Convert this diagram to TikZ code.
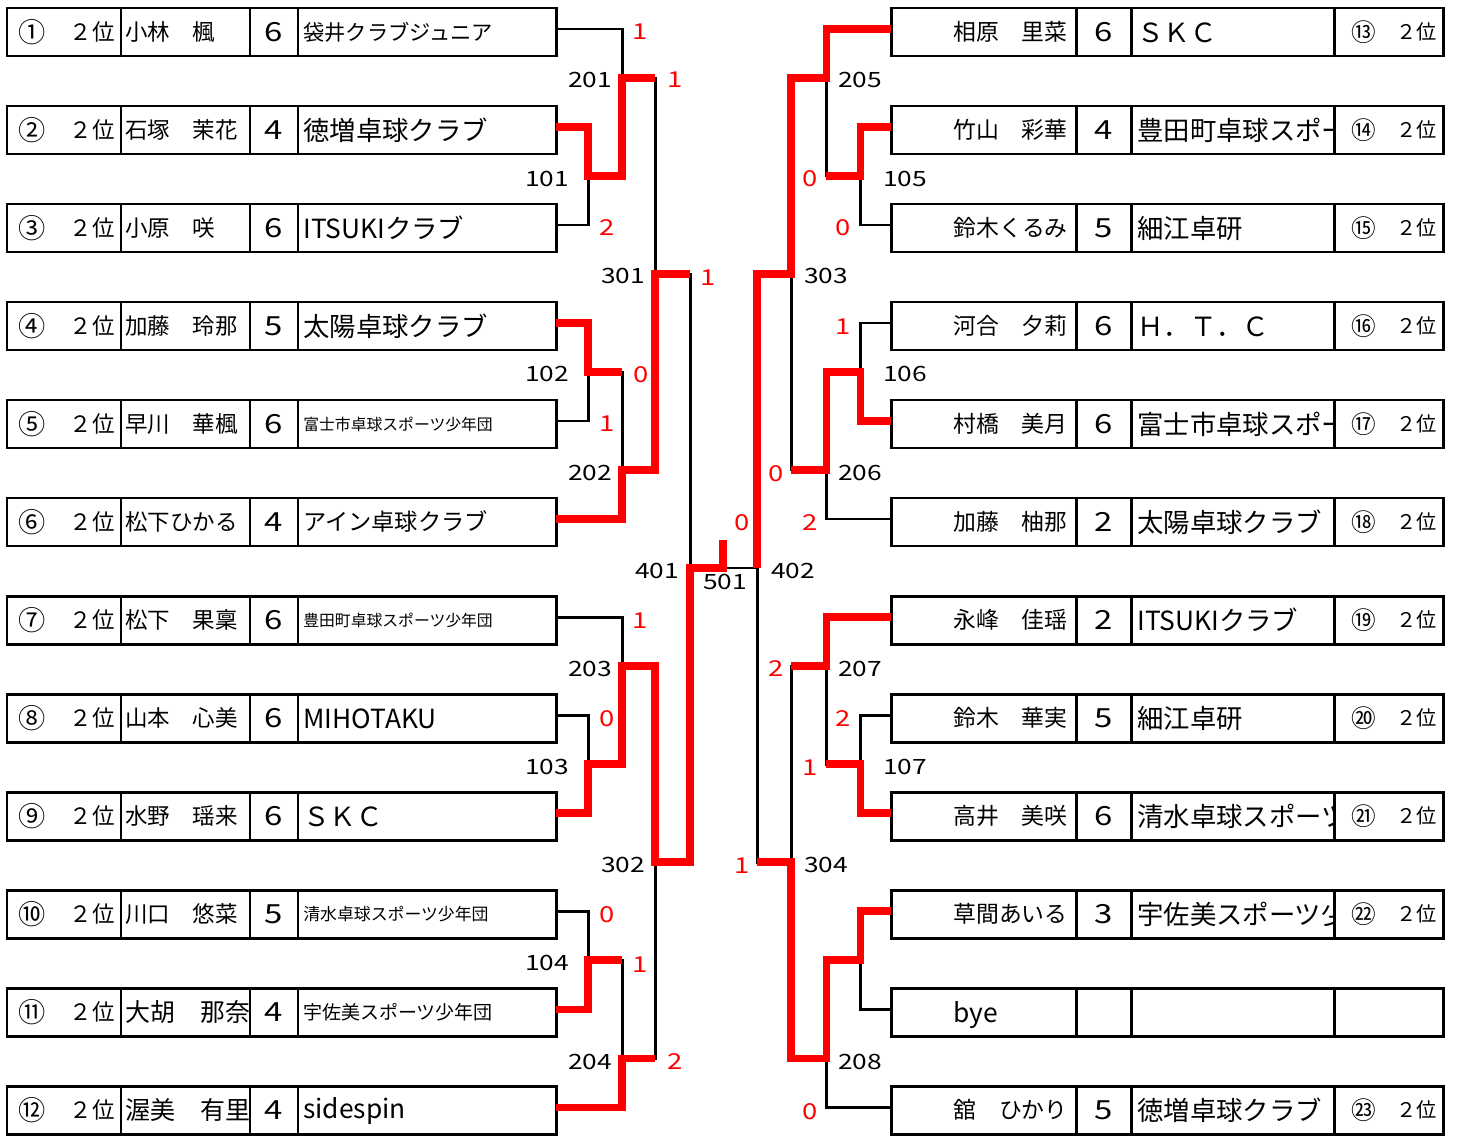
\documentclass[tikz,border=0pt]{standalone}
\usepackage{fontspec}
\setmainfont{Noto Sans CJK JP}
\usepackage{graphicx}
\usepackage{tikz}
\usetikzlibrary{positioning}
\definecolor{winred}{RGB}{255,0,0}
\newcommand\cellfont[1]{\fontsize{#1}{#1}\selectfont\rule[-0.12em]{0pt}{1em}}
\newcommand\widenum[2]{\fontsize{#1}{#1}\selectfont\scalebox{1.25}[1]{#2}}

\begin{document}
\begin{tikzpicture}[x=0.02cm,y=-0.02cm,
    cellbox/.style={draw,line width=1.7pt},
    bline/.style={line width=1.7pt},
    rline/.style={winred,line width=4pt,line join=miter},
    txt/.style={inner sep=0pt},
    mno/.style={inner sep=0pt},
    pts/.style={inner sep=0pt,text=winred}]
\useasboundingbox (0,0) rectangle (1459,1135);
\clip (0,0) rectangle (1459,1135);
\fill[white] (0,0) rectangle (1459,1135);

\foreach \i/\rk/\nm/\nsz/\nmb/\cl/\csz in {
    1/①/小林　楓/12.8/6/袋井クラブジュニア/12.1,
    2/②/石塚　茉花/12.8/4/徳増卓球クラブ/15,
    3/③/小原　咲/12.8/6/ITSUKIクラブ/15,
    4/④/加藤　玲那/12.8/5/太陽卓球クラブ/15,
    5/⑤/早川　華楓/12.8/6/富士市卓球スポーツ少年団/9,
    6/⑥/松下ひかる/12.8/4/アイン卓球クラブ/13.2,
    7/⑦/松下　果稟/12.8/6/豊田町卓球スポーツ少年団/9,
    8/⑧/山本　心美/12.8/6/MIHOTAKU/15,
    9/⑨/水野　瑶来/12.8/6/ＳＫＣ/15,
    10/⑩/川口　悠菜/12.8/5/清水卓球スポーツ少年団/9.6,
    11/⑪/大胡　那奈/14.2/4/宇佐美スポーツ少年団/10.8,
    12/⑫/渥美　有里/14.2/4/sidespin/15}{
  \pgfmathsetmacro\yc{32+98*(\i-1)}
  \draw[cellbox] (7,\yc-24) rectangle (556,\yc+24)
    (121,\yc-24) -- (121,\yc+24) (250,\yc-24) -- (250,\yc+24) (298,\yc-24) -- (298,\yc+24);
  \node[txt] (ck\i) at (32,\yc) {\fontsize{15.5}{15.5}\selectfont\rk};
  \node[txt,anchor=east] (rk\i) at (115,\yc) {\cellfont{12.8}２位};
  \begin{scope}
    \clip (121,\yc-24) rectangle (250,\yc+24);
    \node[txt,anchor=west] (nm\i) at (125,\yc) {\cellfont{\nsz}\nm};
  \end{scope}
  \node[txt] (sc\i) at (274,\yc) {\widenum{15}{\nmb}};
  \node[txt,anchor=west] (cl\i) at (303,\yc) {\cellfont{\csz}\cl};
  \coordinate (p\i) at (556,\yc-3);
}

\foreach \i/\n/\rk/\nm/\nmb/\cl in {
    1/13/⑬/相原　里菜/6/ＳＫＣ,
    2/14/⑭/竹山　彩華/4/豊田町卓球スポー,
    3/15/⑮/鈴木くるみ/5/細江卓研,
    4/16/⑯/河合　夕莉/6/Ｈ．Ｔ．Ｃ,
    5/17/⑰/村橋　美月/6/富士市卓球スポー,
    6/18/⑱/加藤　柚那/2/太陽卓球クラブ,
    7/19/⑲/永峰　佳瑶/2/ITSUKIクラブ,
    8/20/⑳/鈴木　華実/5/細江卓研,
    9/21/㉑/高井　美咲/6/清水卓球スポーツ,
    10/22/㉒/草間あいる/3/宇佐美スポーツ少,
    12/23/㉓/舘　ひかり/5/徳増卓球クラブ}{
  \pgfmathsetmacro\yc{32+98*(\i-1)}
  \draw[cellbox] (891,\yc-24) rectangle (1443,\yc+24)
    (1076,\yc-24) -- (1076,\yc+24) (1131,\yc-24) -- (1131,\yc+24) (1334,\yc-24) -- (1334,\yc+24);
  \node[txt,anchor=east] (nm\n) at (1068,\yc) {\cellfont{13}\nm};
  \node[txt] (sc\n) at (1104,\yc) {\widenum{15}{\nmb}};
  \begin{scope}
    \clip (1131,\yc-24) rectangle (1334,\yc+24);
    \node[txt,anchor=west] (cl\n) at (1137,\yc) {\cellfont{15}\cl};
  \end{scope}
  \node[txt] (ck\n) at (1364,\yc) {\fontsize{14}{14}\selectfont\rk};
  \node[txt,anchor=east] (rk\n) at (1437,\yc) {\cellfont{11.5}２位};
  \coordinate (p\n) at (891,\yc-3);
}
\draw[cellbox] (891,988) rectangle (1443,1036)
  (1076,988) -- (1076,1036) (1131,988) -- (1131,1036) (1334,988) -- (1334,1036);
\node[txt,anchor=west] (nmbye) at (953,1014) {\cellfont{15}bye};
\coordinate (pbye) at (891,1009);

\coordinate (m101) at (588,176);
\coordinate (m102) at (588,372);
\coordinate (m103) at (588,764);
\coordinate (m104) at (588,960);
\coordinate (m201) at (622,78);
\coordinate (m202) at (622,470);
\coordinate (m203) at (622,666);
\coordinate (m204) at (622,1058);
\coordinate (m301) at (655,274);
\coordinate (m302) at (655,862);
\coordinate (m401) at (690,568);
\coordinate (m501) at (723,568);
\coordinate (champ) at (723,540);
\coordinate (m105) at (860,176);
\coordinate (m106) at (860,372);
\coordinate (m107) at (860,764);
\coordinate (m108) at (860,960);
\coordinate (m205) at (826,78);
\coordinate (m206) at (826,470);
\coordinate (m207) at (826,666);
\coordinate (m208) at (826,1058);
\coordinate (m303) at (791,274);
\coordinate (m304) at (791,862);
\coordinate (m402) at (757,568);

\draw[bline] (p1) -| (m201) (p2) -| (m101) (p3) -| (m101) (m101) -| (m201)
  (p4) -| (m102) (p5) -| (m102) (m102) -| (m202) (p6) -| (m202)
  (m201) -| (m301) (m202) -| (m301) (m301) -| (m401)
  (p7) -| (m203) (p8) -| (m103) (p9) -| (m103) (m103) -| (m203)
  (p10) -| (m104) (p11) -| (m104) (m104) -| (m204) (p12) -| (m204)
  (m203) -| (m302) (m204) -| (m302) (m302) -| (m401)
  (m401) -- (m501) -- (m402);
\draw[bline] (p13) -| (m205) (p14) -| (m105) (p15) -| (m105) (m105) -| (m205)
  (p16) -| (m106) (p17) -| (m106) (m106) -| (m206) (p18) -| (m206)
  (m205) -| (m303) (m206) -| (m303) (m303) -| (m402)
  (p19) -| (m207) (p20) -| (m107) (p21) -| (m107) (m107) -| (m207)
  (p22) -| (m108) (pbye) -| (m108) (m108) -| (m208) (p23) -| (m208)
  (m207) -| (m304) (m208) -| (m304) (m304) -| (m402);

\draw[rline] (p2) -| (m101) -| (m201) -- (m201 -| m301);
\draw[rline] (p4) -| (m102) -- (m102 -| m202);
\draw[rline] (p6) -| (m202) -| (m301) -- (m301 -| m401);
\draw[rline] (p9) -| (m103) -| (m203) -| (m302) -| (m401) -- (m501) -- (champ);
\draw[rline] (p11) -| (m104) -- (m104 -| m204);
\draw[rline] (p12) -| (m204) -- (m204 -| m302);
\draw[rline] (p13) -| (m205) -| (m303) -| (m402);
\draw[rline] (p14) -| (m105) -- (m105 -| m205);
\draw[rline] (p17) -| (m106) -| (m206) -- (m206 -| m303);
\draw[rline] (p19) -| (m207) -- (m207 -| m304);
\draw[rline] (p21) -| (m107) -- (m107 -| m207);
\draw[rline] (p22) -| (m108) -| (m208) -| (m304) -- (m304 -| m402);

\foreach \t/\x/\y in {201/590/80, 101/547/179, 301/623/276, 102/547/374, 202/590/473,
    401/657/571, 203/590/669, 103/547/767, 302/623/865, 104/547/963, 204/590/1062,
    205/860/80, 105/905/179, 303/826/276, 106/905/374, 206/860/473, 402/793/571,
    501/725/582, 207/860/669, 107/905/767, 304/826/865, 208/860/1062}
  \node[mno] (n\t) at (\x,\y) {\widenum{12}{\t}};

\foreach \x/\y/\s [count=\k] in {640/32/1, 675/80/1, 607/228/2, 708/278/1, 641/375/0,
    607/424/1, 742/523/0, 640/621/1, 607/719/0, 607/915/0, 640/965/1, 675/1062/2,
    810/179/0, 843/228/0, 843/327/1, 776/474/0, 810/523/2, 776/669/2, 843/719/2,
    810/768/1, 742/866/1, 810/1112/0}
  \node[pts] (g\k) at (\x,\y) {\widenum{12.5}{\s}};
\end{tikzpicture}
\end{document}
